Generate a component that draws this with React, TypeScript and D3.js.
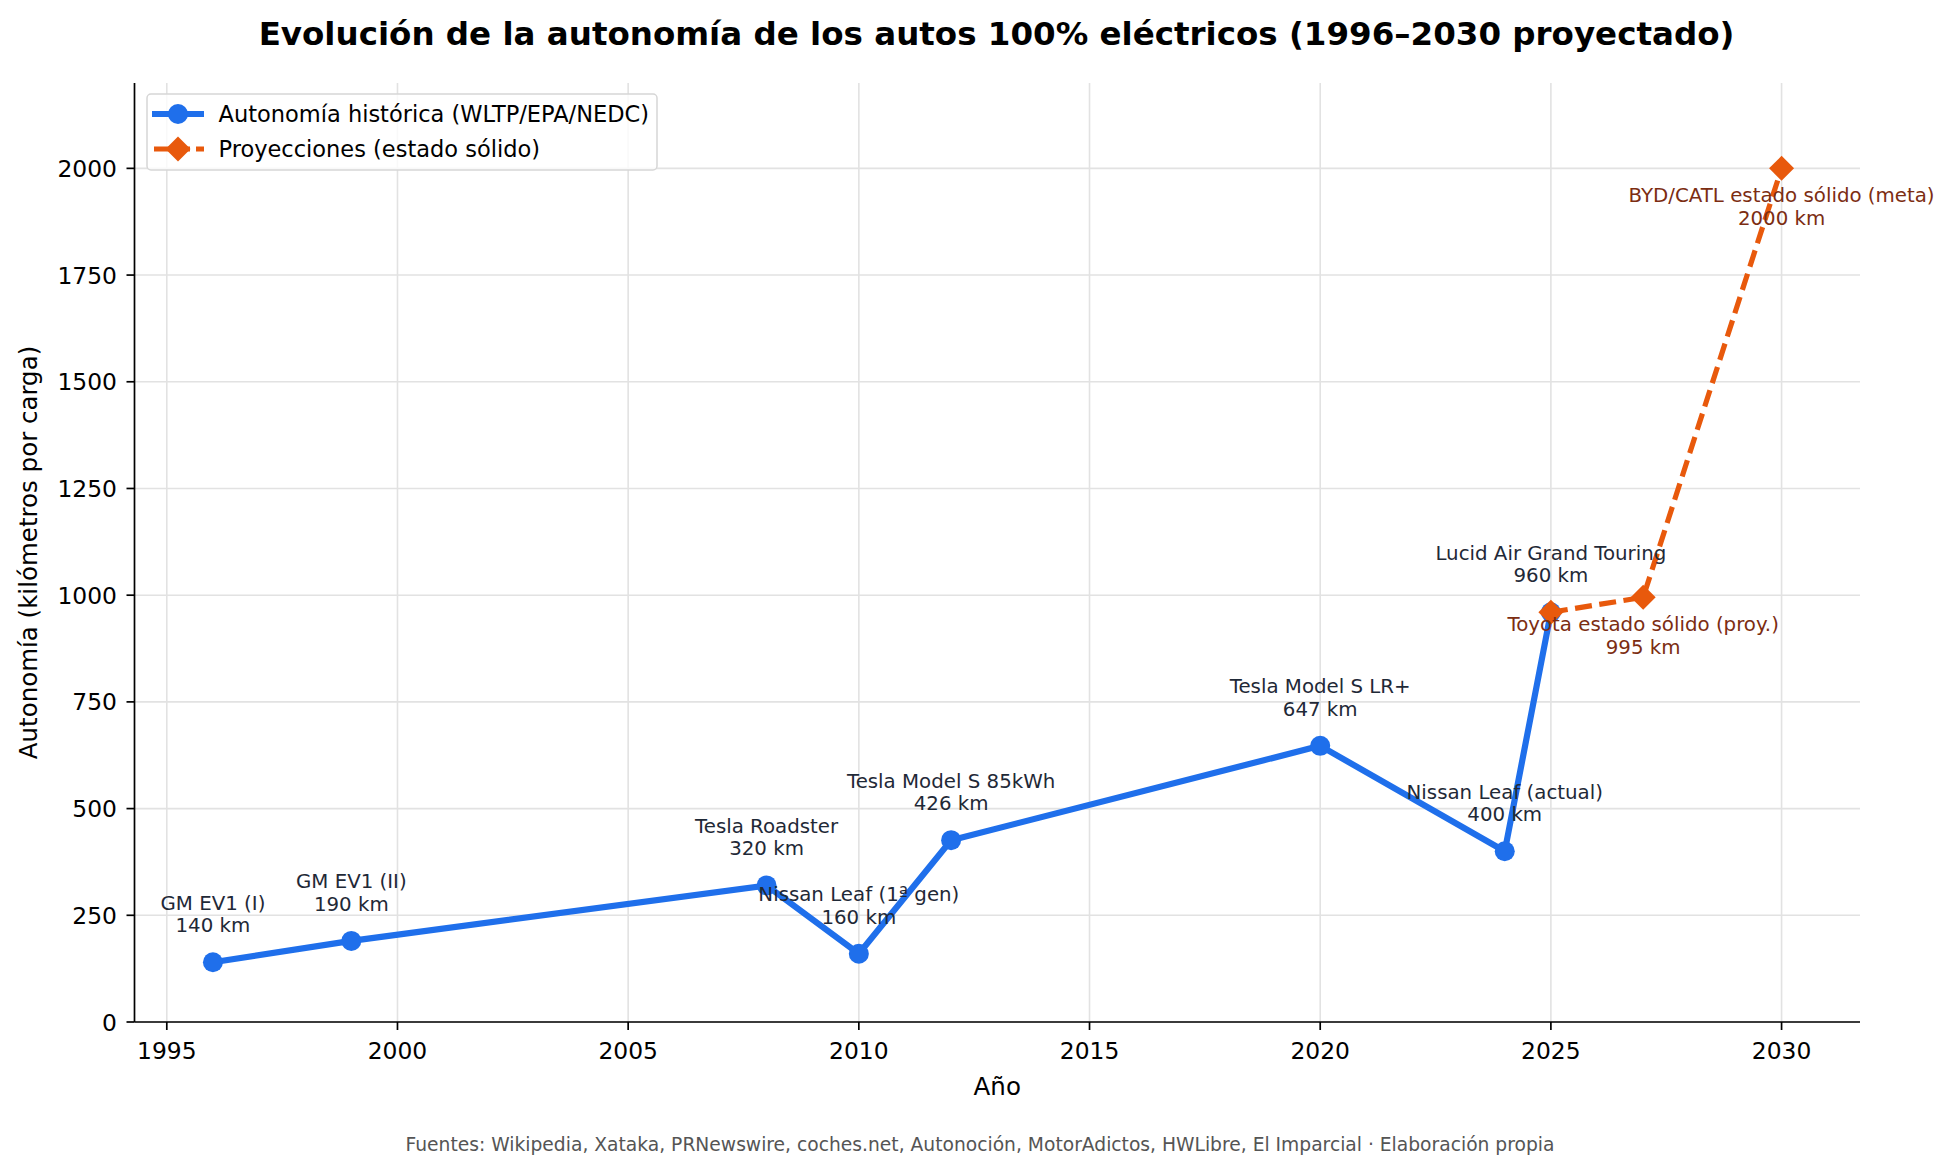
import React from "react";
import * as d3 from "d3";

const histYears = [1996, 1999, 2008, 2010, 2012, 2020, 2024, 2025];
const histRange = [140, 190, 320, 160, 426, 647, 400, 960];
const histLabels = [
  "GM EV1 (I)",
  "GM EV1 (II)",
  "Tesla Roadster",
  "Nissan Leaf (1ª gen)",
  "Tesla Model S 85kWh",
  "Tesla Model S LR+",
  "Nissan Leaf (actual)",
  "Lucid Air Grand Touring",
];
const projYears = [2025, 2027, 2030];
const projRange = [960, 995, 2000];
const projLabels = ["", "Toyota estado sólido (proy.)", "BYD/CATL estado sólido (meta)"];

const xTicks = [1995, 2000, 2005, 2010, 2015, 2020, 2025, 2030];
const yTicks = [0, 250, 500, 750, 1000, 1250, 1500, 1750, 2000];

const TITLE = "Evolución de la autonomía de los autos 100% eléctricos (1996–2030 proyectado)";
const XLABEL = "Año";
const YLABEL = "Autonomía (kilómetros por carga)";
const FOOTER =
  "Fuentes: Wikipedia, Xataka, PRNewswire, coches.net, Autonoción, MotorAdictos, HWLibre, El Imparcial · Elaboración propia";
const LEGEND = ["Autonomía histórica (WLTP/EPA/NEDC)", "Proyecciones (estado sólido)"];

const W = 1953;
const H = 1172;
const L = 134.5;
const R = 1860;
const T = 83;
const B = 1022;

const BLUE = "#1f6feb";
const ORANGE = "#e8590c";
const FONT = "DejaVu Sans";

export default function App() {
  const x = d3.scaleLinear().domain([1994.3, 2031.7]).range([L, R]);
  const y = d3.scaleLinear().domain([0, 2200]).range([B, T]);

  const histPts: [number, number][] = histYears.map((yr, i) => [yr, histRange[i]]);
  const projPts: [number, number][] = projYears.map((yr, i) => [yr, projRange[i]]);
  const line = d3
    .line<[number, number]>()
    .x((d) => x(d[0]))
    .y((d) => y(d[1]));

  const diamond = (cx: number, cy: number, r: number) =>
    `M${cx},${cy - r}L${cx + r},${cy}L${cx},${cy + r}L${cx - r},${cy}Z`;

  const dash = "17 7.5";

  return (
    <div style={{ position: "absolute", left: 0, top: 0 }}>
      <svg width={W} height={H} viewBox={`0 0 ${W} ${H}`} style={{ display: "block", background: "#fff" }}>
        <rect x={0} y={0} width={W} height={H} fill="#fff" />
        {/* grid */}
        <g stroke="#e2e2e2" strokeWidth={1.6}>
          {xTicks.map((t) => (
            <line key={"gx" + t} x1={x(t)} x2={x(t)} y1={T} y2={B} />
          ))}
          {yTicks.map((t) => (
            <line key={"gy" + t} x1={L} x2={R} y1={y(t)} y2={y(t)} />
          ))}
        </g>

        {/* historical line */}
        <path d={line(histPts) || ""} fill="none" stroke={BLUE} strokeWidth={6.2} strokeLinejoin="round" />
        {histPts.map((p, i) => (
          <circle key={"hc" + i} cx={x(p[0])} cy={y(p[1])} r={10} fill={BLUE} />
        ))}

        {/* projections */}
        <path
          d={line(projPts) || ""}
          fill="none"
          stroke={ORANGE}
          strokeWidth={5.2}
          strokeDasharray={dash}
          strokeLinejoin="round"
        />
        {projPts.map((p, i) => (
          <path key={"pd" + i} d={diamond(x(p[0]), y(p[1]), 12.5)} fill={ORANGE} />
        ))}

        {/* annotations */}
        <g fontFamily={FONT} fontSize={19.8} textAnchor="middle" fill="#1f2937">
          {histPts.map((p, i) => (
            <g key={"ha" + i}>
              <text x={x(p[0])} y={y(p[1]) - 52.5}>
                {histLabels[i]}
              </text>
              <text x={x(p[0])} y={y(p[1]) - 30}>
                {`${histRange[i]} km`}
              </text>
            </g>
          ))}
        </g>
        <g fontFamily={FONT} fontSize={19.8} textAnchor="middle" fill="#7c2d12">
          {projPts.map((p, i) =>
            projLabels[i] ? (
              <g key={"pa" + i}>
                <text x={x(p[0])} y={y(p[1]) + 34}>
                  {projLabels[i]}
                </text>
                <text x={x(p[0])} y={y(p[1]) + 56.5}>
                  {`${projRange[i]} km`}
                </text>
              </g>
            ) : null
          )}
        </g>

        {/* spines */}
        <line x1={L} x2={L} y1={T} y2={B} stroke="#000" strokeWidth={1.7} />
        <line x1={L} x2={R} y1={B} y2={B} stroke="#000" strokeWidth={1.7} />

        {/* ticks */}
        <g fontFamily={FONT} fontSize={23.4} fill="#000">
          {xTicks.map((t) => (
            <g key={"xt" + t}>
              <line x1={x(t)} x2={x(t)} y1={B} y2={B + 8} stroke="#000" strokeWidth={1.7} />
              <text x={x(t)} y={1059} textAnchor="middle">
                {t}
              </text>
            </g>
          ))}
          {yTicks.map((t) => (
            <g key={"yt" + t}>
              <line x1={L - 8} x2={L} y1={y(t)} y2={y(t)} stroke="#000" strokeWidth={1.7} />
              <text x={117} y={y(t) + 8.5} textAnchor="end">
                {t}
              </text>
            </g>
          ))}
        </g>

        {/* axis labels */}
        <text x={(L + R) / 2} y={1094.5} textAnchor="middle" fontFamily={FONT} fontSize={24.5} fill="#000">
          {XLABEL}
        </text>
        <text
          transform={`translate(37,${(T + B) / 2}) rotate(-90)`}
          textAnchor="middle"
          fontFamily={FONT}
          fontSize={24.5}
          fill="#000"
        >
          {YLABEL}
        </text>

        {/* title */}
        <text x={996.5} y={44.5} textAnchor="middle" fontFamily={FONT} fontWeight="bold" fontSize={32.5} fill="#000">
          {TITLE}
        </text>

        {/* legend */}
        <g>
          <rect x={147} y={94} width={510} height={76} rx={4} fill="#fff" fillOpacity={0.8} stroke="#d6d6d6" strokeWidth={1.5} />
          <line x1={152} x2={204} y1={114} y2={114} stroke={BLUE} strokeWidth={6.2} />
          <circle cx={178} cy={114} r={10} fill={BLUE} />
          <line x1={152} x2={204} y1={149} y2={149} stroke={ORANGE} strokeWidth={5.2} strokeDasharray="15 6" strokeDashoffset={-2} />
          <path d={diamond(178, 149, 12.5)} fill={ORANGE} />
          <text x={218.5} y={122} fontFamily={FONT} fontSize={22.5} fill="#000">
            {LEGEND[0]}
          </text>
          <text x={218.5} y={157} fontFamily={FONT} fontSize={22.5} fill="#000">
            {LEGEND[1]}
          </text>
        </g>

        {/* footer */}
        <text x={980} y={1150.5} textAnchor="middle" fontFamily={FONT} fontSize={18.7} fill="#555">
          {FOOTER}
        </text>
      </svg>
    </div>
  );
}
